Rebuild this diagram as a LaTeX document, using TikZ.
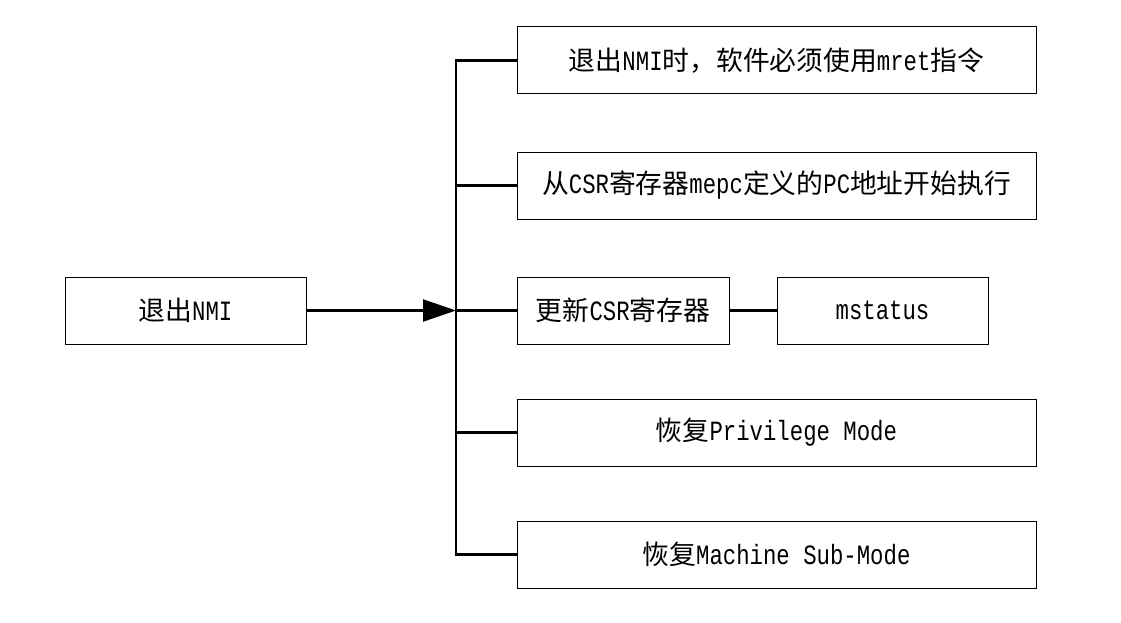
\documentclass[tikz,border=0pt]{standalone}
\usepackage{fontspec}
\setmainfont{Liberation Mono}[FakeStretch=0.8]
\newfontfamily\cjk{Noto Sans CJK SC}[Scale=0.96]
\usetikzlibrary{arrows.meta}
\tikzset{
  box/.style={draw, line width=1pt, minimum height=67pt, inner sep=0pt,
    font=\fontsize{27.9}{30}\selectfont},
  conn/.style={draw, line width=2.2pt},
}
\begin{document}
\begin{tikzpicture}[x=1pt,y=-1pt]
\useasboundingbox (0,0) rectangle (1121,623);
\node[box, minimum width=241pt] (left) at (185.5,310.5) {{\cjk 退出}NMI};
\node[box, minimum width=519pt] (b1) at (776.5,60.5) {{\cjk 退出}NMI{\cjk 时，软件必须使用}mret{\cjk 指令}};
\node[box, minimum width=519pt] (b2) at (776.5,185.5) {{\cjk 从}CSR{\cjk 寄存器}mepc{\cjk 定义的}PC{\cjk 地址开始执行}};
\node[box, minimum width=212pt] (b3) at (623,310.5) {{\cjk 更新}CSR{\cjk 寄存器}};
\node[box, minimum width=211pt] (ms) at (882.5,310.5) {mstatus};
\node[box, minimum width=519pt] (b4) at (776.5,432.5) {{\cjk 恢复}Privilege Mode};
\node[box, minimum width=519pt] (b5) at (776.5,554.5) {{\cjk 恢复}Machine Sub-Mode};
\coordinate (bus) at (456,310.5);
\draw[conn, -{Triangle[length=33pt,width=22pt]}] (left.east) -- (bus);
\draw[conn] (b1.west) -- (b1.west -| bus) -- (b5.west -| bus) -- (b5.west);
\draw[conn] (b2.west) -- (b2.west -| bus);
\draw[conn] (b3.west) -- (bus);
\draw[conn] (b4.west) -- (b4.west -| bus);
\draw[conn] (b3.east) -- (ms.west);
\end{tikzpicture}
\end{document}
